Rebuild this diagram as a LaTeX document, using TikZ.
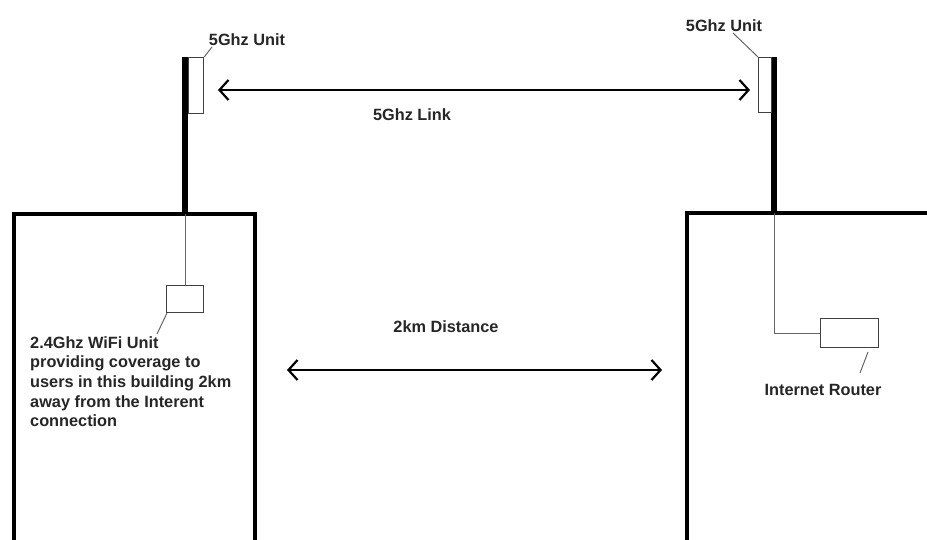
\documentclass[tikz,border=0pt]{standalone}
\usepackage{fontspec}
\setmainfont{Liberation Sans}
\usetikzlibrary{arrows.meta}
\begin{document}
\begin{tikzpicture}[x=1pt,y=-1pt,
  wall/.style={line width=4pt,line cap=rect},
  pole/.style={line width=6pt},
  unitbox/.style={draw=black!75,line width=1.2pt,fill=white,inner sep=0pt,anchor=north west},
  thin/.style={draw=black!60,line width=1pt},
  lbl/.style={font=\fontsize{16.3}{19.7}\selectfont\bfseries,text=black!85,inner sep=0pt},
  link/.style={line width=2.2pt,{Straight Barb[length=9pt,width=20pt,line width=2.2pt]}-{Straight Barb[length=9pt,width=20pt,line width=2.2pt]}}
]
\useasboundingbox (0,0) rectangle (927,540);
\fill[white] (0,0) rectangle (927,540);
% buildings
\draw[wall] (14,541) -- (14,214) -- (255,214) -- (255,541);
\draw[wall] (687,541) -- (687,213) -- (930,213);
% poles
\coordinate (lpt) at (185,57);
\coordinate (lpb) at (185,214);
\coordinate (rpt) at (774,57);
\coordinate (rpb) at (774,213);
\draw[pole] (lpt) -- (lpb);
\draw[pole] (rpt) -- (rpb);
% 5GHz units
\node[unitbox,minimum width=15pt,minimum height=56pt] (lunit) at (188,57) {};
\node[unitbox,minimum width=13pt,minimum height=55pt] (runit) at (758,57) {};
% labels 5GHz
\node[lbl] (llab) at (247,40) {5Ghz Unit};
\node[lbl] (rlab) at (724,26) {5Ghz Unit};
\draw[thin] (212,47) -- (lunit.north east);
\draw[thin] (733,33) -- (runit.north west);
% 5GHz link
\coordinate (la) at (218,90);
\coordinate (ra) at (750,90);
\draw[link] (la) -- (ra);
\node[lbl] (linklab) at (412,115) {5Ghz Link};
% left WiFi unit
\node[unitbox,minimum width=37pt,minimum height=27pt] (wifi) at (166,285) {};
\draw[thin] (lpb) -- (wifi.north -| lpb);
\draw[thin] (167,313) -- (157,334);
\node[lbl,anchor=north west,align=left] (wifilab) at (30,336) {2.4Ghz WiFi Unit\\providing coverage to\\users in this building 2km\\away from the Interent\\connection};
% right router
\node[unitbox,minimum width=58pt,minimum height=29pt] (router) at (820,318) {};
\draw[thin] (rpb) |- (router.west);
\draw[thin] (868,352) -- (860,373);
\node[lbl] (routerlab) at (823,390) {Internet Router};
% distance
\coordinate (ld) at (287,370);
\coordinate (rd) at (662,370);
\draw[link] (ld) -- (rd);
\node[lbl] (distlab) at (446,327) {2km Distance};
\end{tikzpicture}
\end{document}
